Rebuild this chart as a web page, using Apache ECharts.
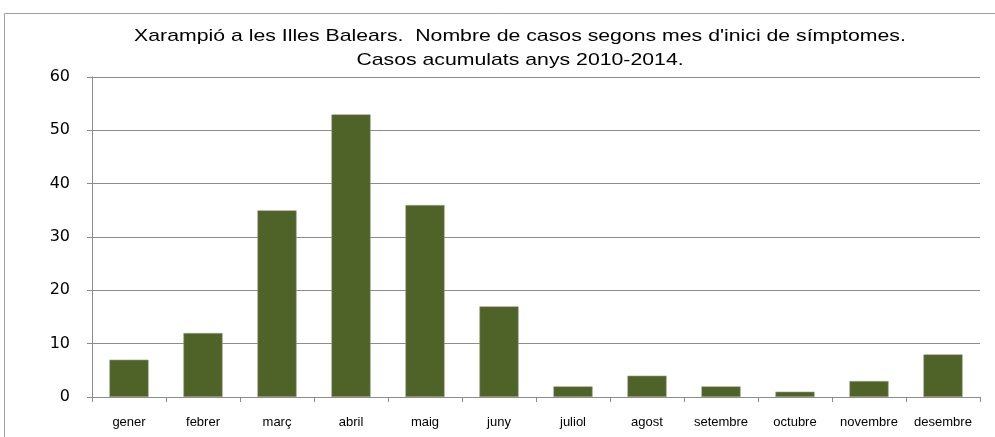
<!DOCTYPE html>
<html><head><meta charset="utf-8">
<script src="https://cdn.jsdelivr.net/npm/echarts@6/dist/echarts.min.js"></script>
<style>html,body{margin:0;padding:0;background:#fff}#c{width:995px;height:437px}</style>
</head><body><div id="c"></div>
<script>
const titleLines = ["Xarampió a les Illes Balears.  Nombre de casos segons mes d'inici de símptomes.", "Casos acumulats anys 2010-2014."];
const months = ["gener","febrer","març","abril","maig","juny","juliol","agost","setembre","octubre","novembre","desembre"];
const cases = [7,12,35,53,36,17,2,4,2,1,3,8];
const yTicks = {min:0, max:60, interval:10};

const chart = echarts.init(document.getElementById('c'), null, {renderer:'canvas'});
chart.setOption({
  animation:false,
  graphic:[
    {type:'rect', shape:{x:4.5,y:13.5,width:1000,height:500}, style:{fill:null, stroke:'#a0a0a0', lineWidth:1}, z:-1},
    {type:'text', x:520, y:24, scaleX:1.25, scaleY:1,
      style:{text:titleLines.join('\n'), textAlign:'center', textVerticalAlign:'top',
        font:'17px "Liberation Sans"', lineHeight:24, fill:'#000'}}
  ],
  grid:{left:92, right:15, top:77, bottom:40, containLabel:false},
  xAxis:{type:'category', data:months, boundaryGap:true,
    axisLine:{lineStyle:{color:'#8c8c8c', width:1}},
    axisTick:{show:true, length:5, lineStyle:{color:'#8c8c8c'}},
    axisLabel:{fontFamily:'Liberation Sans', fontSize:13, color:'#000', margin:19, interval:0}},
  yAxis:{type:'value', min:yTicks.min, max:yTicks.max, interval:yTicks.interval,
    axisLine:{show:true, lineStyle:{color:'#8c8c8c'}},
    axisTick:{show:true, inside:false, length:5, lineStyle:{color:'#8c8c8c'}},
    splitLine:{lineStyle:{color:'#8c8c8c', width:1}},
    axisLabel:{fontFamily:'DejaVu Sans', fontSize:16, color:'#000', margin:22}},
  series:[{type:'bar', data:cases, barCategoryGap:'47%',
    itemStyle:{color:'#4F6228', borderColor:'#9aa58a', borderWidth:0.6}}]
});
</script></body></html>
